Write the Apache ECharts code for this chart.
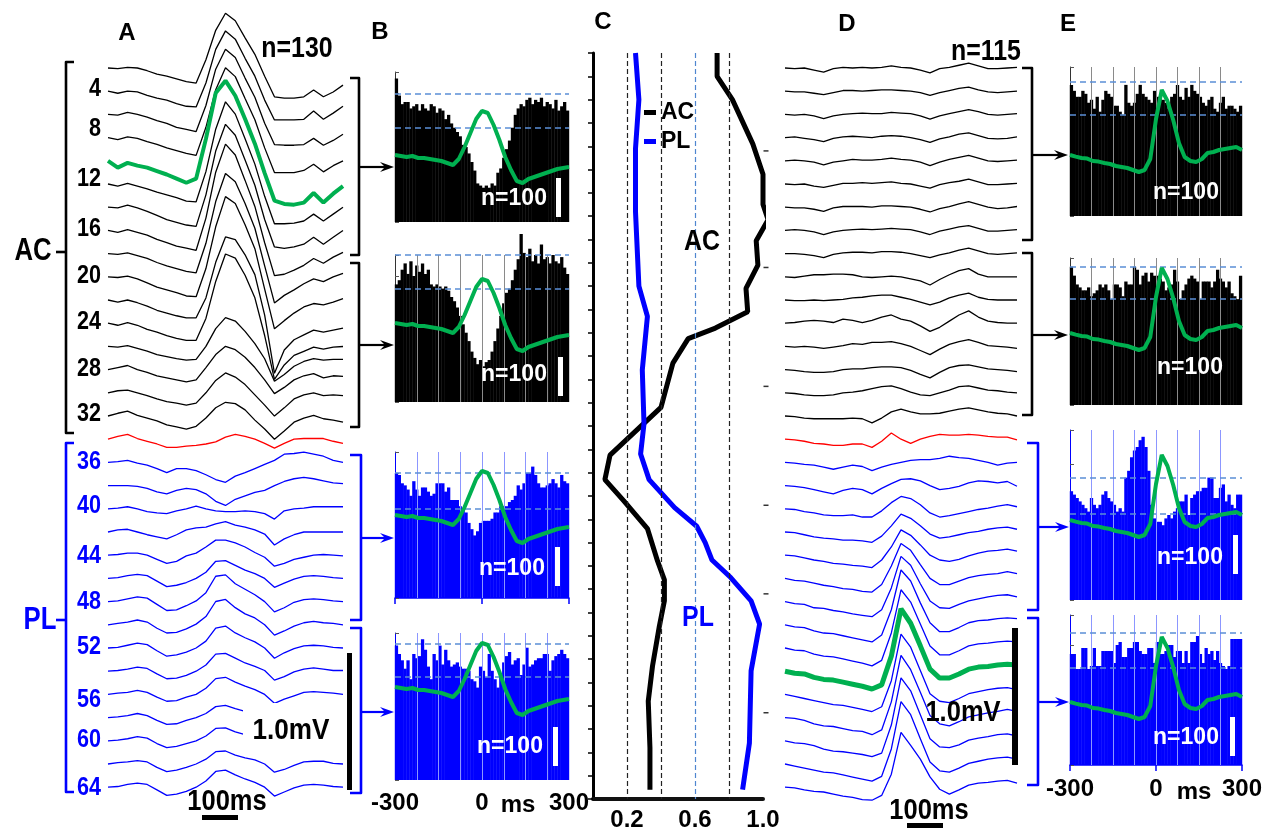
<!DOCTYPE html>
<html>
<head>
<meta charset="utf-8">
<title>AC / PL field potentials and spike histograms</title>
<script src="https://cdn.jsdelivr.net/npm/echarts@6.0.0/dist/echarts.min.js"></script>
<style>
html,body{margin:0;padding:0;background:#fff;}
#chart{width:1270px;height:832px;}
</style>
</head>
<body>
<div id="chart"></div>
<script>
// ================= DATA =================
// time axis of the averaged field-potential traces (ms)
const traceTimes = [-300,-275,-250,-225,-200,-175,-150,-125,-100,-75,-50,-25,0,25,50,75,100,125,150,175,200,225,250,275,300];

// Panel A : averaged LFP (uV, relative to each trace's start), AC channels (black)
const panelA_AC = [
 [0,-5,5,0,-20,-45,-60,-80,-100,-110,60,275,400,345,220,100,-60,-210,-220,-220,-210,-160,-210,-175,-125],
 [0,-15,0,-5,-30,-50,-65,-90,-110,-115,60,305,440,380,240,110,-65,-210,-210,-210,-205,-145,-205,-160,-110],
 [0,-5,15,0,-20,-45,-65,-95,-110,-125,65,330,475,415,265,125,-65,-220,-225,-225,-220,-175,-225,-190,-145],
 [0,-15,5,-5,-30,-50,-75,-95,-115,-130,75,350,510,445,285,130,-75,-255,-255,-255,-240,-195,-250,-205,-170],
 [0,-50,-15,-35,-50,-75,-100,-130,-160,-130,160,495,585,475,305,125,-90,-290,-315,-320,-305,-235,-305,-240,-185],
 [0,-15,5,-15,-35,-60,-80,-100,-125,-130,90,400,600,510,330,145,-90,-290,-290,-285,-270,-220,-270,-220,-170],
 [0,-5,15,-5,-30,-60,-90,-110,-130,-140,90,410,605,525,345,160,-90,-290,-300,-290,-270,-220,-270,-220,-170],
 [0,-15,5,-15,-35,-65,-90,-115,-130,-145,90,425,630,550,365,175,-90,-330,-320,-290,-255,-205,-240,-195,-160],
 [0,-5,5,-15,-35,-65,-90,-110,-130,-140,75,380,585,525,365,185,-90,-360,-305,-265,-220,-185,-205,-170,-145],
 [0,-5,5,-15,-45,-75,-95,-115,-140,-145,60,365,585,535,380,205,-90,-380,-320,-265,-220,-195,-205,-185,-160],
 [0,-15,0,-20,-45,-75,-95,-115,-130,-130,15,275,460,440,330,185,-110,-535,-365,-290,-255,-220,-235,-220,-205],
 [0,-15,5,-15,-45,-65,-90,-110,-125,-125,35,305,505,475,350,185,-90,-410,-305,-235,-205,-175,-190,-175,-170],
 [0,-5,5,-15,-35,-60,-75,-90,-100,-95,0,130,210,185,110,20,-90,-255,-205,-145,-110,-90,-100,-95,-95],
 [0,15,30,0,-20,-45,-60,-75,-90,-75,15,110,170,145,90,15,-75,-175,-130,-75,-45,-30,-60,-45,-50],
 [0,15,20,0,-20,-45,-65,-75,-90,-75,0,90,145,115,60,-15,-90,-170,-110,-45,-15,0,-20,-15,-20],
 [0,20,35,5,-15,-35,-65,-80,-95,-75,-15,60,100,90,45,-30,-95,-170,-110,-45,-15,5,-20,-30,-45]
];
// Panel A : border channel (red)
const panelA_red = [0,20,35,5,-15,-35,-60,-60,-50,-45,-35,-20,15,35,20,0,-30,-65,-30,0,5,5,5,-15,-30];
// Panel A : PL channels (blue)
const panelA_PL = [
 [0,5,15,-5,-20,-45,-75,-45,-45,-60,-90,-125,-145,-100,-75,-45,-15,15,60,65,75,60,45,15,0],
 [0,0,0,-5,-20,-45,-60,-35,-20,-30,-60,-115,-145,-100,-75,-50,-35,0,30,50,60,50,35,20,15],
 [0,5,15,0,-20,-30,-35,-15,0,20,0,-15,-20,-20,-15,-20,-35,-75,-15,0,5,15,15,15,15],
 [0,15,20,0,-20,-35,-50,-20,15,30,35,60,75,50,35,15,-15,-95,-50,-20,0,0,0,0,0],
 [0,5,15,15,0,-30,-60,-45,-5,15,60,110,110,90,60,20,-15,-80,-60,-30,-15,0,5,0,-5],
 [0,5,20,30,20,-20,-60,-50,-30,0,45,125,130,95,60,35,0,-65,-35,-5,15,20,15,5,0],
 [0,5,20,35,25,-20,-65,-60,-30,5,65,185,195,130,90,50,0,-75,-45,-5,15,20,15,5,0],
 [0,10,20,35,20,-25,-60,-55,-30,5,60,170,185,125,80,50,0,-75,-45,-10,15,25,15,10,0],
 [0,5,20,35,25,-20,-60,-50,-30,0,50,145,160,110,75,45,0,-75,-35,-5,15,20,15,5,0],
 [0,5,15,30,20,-20,-55,-50,-30,0,45,125,130,95,60,35,5,-65,-40,-5,15,25,15,5,5],
 [0,10,15,30,15,-20,-50,-45,-20,0,45,115,125,90,60,35,0,-65,-35,-10,15,20,15,10,0],
 [0,5,15,30,15,-20,-50,-45,-20,0,30,80,90,65,45,30,0,-60,-35,-5,15,20,15,5,0],
 [0,5,15,30,20,-20,-50,-40,-20,0,35,90,95,65,45,30,0,-60,-35,-5,15,20,15,5,0],
 [0,10,15,25,15,-25,-55,-45,-25,0,35,90,95,65,45,30,0,-60,-40,-10,15,20,20,5,0],
 [0,5,20,30,20,-20,-60,-50,-30,0,45,115,125,90,60,35,0,-65,-35,-5,15,20,15,5,0]
];

// Panel D : AC channels (black)
const panelD_AC = [
 [0,-5,0,-15,-30,-5,5,0,5,0,5,15,5,0,-15,-35,-5,5,20,35,15,-5,-5,0,5],
 [0,-5,-5,-15,-25,-10,5,5,0,5,10,10,5,0,-10,-30,-10,5,20,30,10,-5,-10,-5,0],
 [0,-5,0,-10,-30,-10,0,5,10,5,5,15,10,5,-10,-35,-10,5,20,35,20,0,-5,0,5],
 [0,5,-5,-15,-30,-5,5,10,5,0,10,15,10,0,-15,-35,-10,5,25,35,15,-5,-10,-5,5],
 [0,5,0,-10,-30,-10,0,10,5,5,10,20,10,5,-10,-35,-10,10,25,40,20,0,-5,0,5],
 [0,-5,0,-15,-25,-10,5,5,10,5,10,15,5,0,-15,-30,-5,10,20,35,15,-5,-5,0,5],
 [0,-5,-5,-15,-30,-5,5,5,5,0,10,10,5,0,-15,-35,-10,5,25,40,20,0,-10,-5,5],
 [0,5,0,-10,-30,-10,0,5,10,5,10,15,10,5,-10,-30,-5,10,25,35,15,-5,-5,0,5],
 [0,0,-5,-15,-30,-5,5,10,10,5,15,15,10,0,-15,-30,-10,5,25,40,20,0,-5,0,5],
 [0,-5,5,15,15,20,20,15,0,-5,0,5,0,-15,-30,-60,-20,15,45,60,20,0,0,0,0],
 [0,-5,-5,0,-5,0,5,15,20,30,35,35,20,5,-15,-35,-15,15,35,50,20,5,0,0,0],
 [0,5,15,20,15,5,30,20,5,20,45,60,30,15,-20,-60,-30,15,60,90,45,15,5,0,0],
 [0,-5,0,-5,-15,-5,5,20,15,30,30,35,20,0,-30,-60,-20,15,35,50,30,5,0,-5,-15],
 [0,-5,-15,-20,-20,-15,0,5,5,15,20,20,15,-5,-35,-60,-20,15,30,35,20,5,0,-5,-15],
 [0,-5,-15,-20,-20,-15,0,5,15,30,45,50,30,5,-15,-20,0,20,45,50,35,20,15,5,0],
 [0,-5,-15,-20,-20,-20,-20,-15,-20,-50,-15,30,50,30,15,15,20,35,50,60,45,30,20,15,0]
];
const panelD_red = [0,-5,-15,-30,-35,-45,-45,-35,-35,-60,-15,45,0,-30,0,20,35,30,30,35,30,20,15,15,-5];
const panelD_PL = [
 [0,-5,-15,-20,-35,-50,-35,-20,-30,-60,-35,-15,0,15,20,20,30,45,35,30,15,0,-20,-5,0],
 [0,-5,-15,-30,-45,-60,-35,-20,-30,-60,-20,15,45,50,35,0,-30,-20,-5,20,35,30,20,30,-5],
 [0,-5,-20,-30,-45,-50,-50,-45,-60,-60,-15,45,90,75,30,-30,-60,-50,-35,-20,-5,5,20,30,15],
 [0,-5,-20,-35,-45,-50,-60,-60,-65,-75,-30,45,130,100,45,-15,-45,-35,-20,-5,5,20,30,35,20],
 [0,-5,-20,-35,-45,-60,-65,-75,-80,-90,-35,60,185,145,75,0,-35,-45,-30,-5,15,30,35,45,30],
 [0,-15,-20,-35,-50,-60,-75,-80,-95,-100,-45,90,255,205,100,0,-45,-45,-20,5,20,30,35,50,35],
 [0,-15,-20,-45,-50,-65,-75,-90,-100,-110,-60,100,330,265,130,5,-45,-50,-20,5,20,35,45,50,35],
 [0,-15,-20,-45,-60,-65,-80,-95,-110,-125,-75,110,400,320,160,15,-50,-50,-20,15,30,35,45,50,45],
 [0,-15,-20,-45,-60,-65,-80,-95,-110,-130,-90,110,425,335,175,15,-50,-50,-20,15,30,35,45,50,45],
 [0,-15,-20,-45,-60,-65,-80,-95,-110,-130,-100,110,455,350,185,15,-50,-50,-20,15,30,35,45,50,45],
 [0,-15,-30,-45,-60,-75,-80,-95,-110,-125,-90,100,440,345,175,5,-50,-60,-30,5,20,35,45,50,35],
 [0,-5,-20,-45,-60,-65,-80,-95,-100,-125,-90,115,455,350,185,15,-45,-60,-30,5,20,35,45,60,45],
 [0,-15,-20,-35,-60,-75,-80,-90,-100,-115,-90,115,460,365,190,15,-45,-50,-30,5,20,30,45,50,35],
 [0,-15,-30,-45,-60,-65,-80,-95,-110,-125,-90,110,455,360,185,15,-50,-60,-30,5,20,35,45,50,35],
 [0,-5,-20,-30,-35,-50,-65,-75,-90,-95,-60,95,400,305,205,75,-15,-50,-20,15,30,35,45,50,30]
];
const channelLabels = ['4','8','12','16','20','24','28','32','36','40','44','48','52','56','60','64'];

// Histograms (spike counts, 10-ms bins from -300 to 300 ms)
const histB1 = [67,59,55,56,56,53,54,55,52,55,53,52,55,54,51,53,52,48,50,46,44,42,40,36,35,32,28,24,18,17,16,17,16,18,17,23,25,30,34,38,44,50,53,55,54,57,58,55,57,56,58,54,56,55,53,57,52,54,56,52];
const histB2 = [56,58,63,66,61,67,60,65,62,66,61,63,56,55,56,55,54,55,53,50,48,45,41,37,33,29,24,21,18,20,17,19,20,24,29,35,41,47,52,54,58,63,68,80,71,69,73,67,70,66,75,68,69,66,70,67,66,69,64,61];
const histB3 = [60,59,55,54,52,49,56,52,49,53,53,51,49,50,55,55,55,51,53,47,47,47,44,43,41,36,33,30,32,36,37,37,37,38,41,41,44,44,44,46,47,49,54,52,55,60,60,63,59,55,53,53,54,55,57,55,53,59,56,55];
const histB4 = [64,60,57,53,57,48,60,58,59,67,62,54,48,60,57,64,55,62,57,54,55,56,54,53,53,52,48,47,44,54,52,49,60,52,48,44,50,56,59,61,55,57,58,50,55,63,54,55,57,58,58,60,60,52,57,59,60,62,60,58];
const histE1 = [44,42,40,40,42,41,38,39,36,40,35,39,42,41,40,37,37,35,34,44,38,37,38,41,44,41,40,39,38,42,40,40,39,38,36,40,41,44,40,39,43,40,44,42,41,40,38,37,39,40,36,35,38,40,36,37,37,36,35,37];
const histE2 = [47,44,41,40,39,39,40,37,38,39,41,40,41,39,36,41,41,40,37,42,41,41,47,46,41,44,45,42,45,44,44,43,42,39,40,41,46,42,36,39,41,43,44,43,42,36,42,42,42,40,42,46,43,42,40,42,38,37,36,44];
const histE3 = [32,31,30,29,28,27,26,30,28,27,28,31,32,30,29,28,26,27,26,36,38,42,44,45,47,48,45,38,28,24,23,23,22,24,25,24,26,27,29,29,31,25,30,31,32,32,33,33,36,36,30,30,33,34,29,31,28,27,31,31];
const histE4 = [37,37,32,32,39,39,32,33,39,33,33,38,38,38,38,34,40,41,36,36,39,39,41,41,38,37,37,39,39,34,41,37,37,38,40,40,36,38,38,34,38,34,41,41,43,37,34,39,37,38,35,38,34,33,32,33,42,42,42,42];
const histThresholdsB = [[60,44],[70,54],[60,43],[65,49]];
const histThresholdsE = [[45,34],[47,36],[36,25.5],[44,32.5]];
const histGridTimes = [-225,-150,-75,0,75,150,225];

// Overlaid averaged LFP in the histograms (uV)
const lfpTimes = [-300,-280,-260,-240,-220,-200,-180,-160,-140,-120,-100,-80,-60,-40,-20,0,20,40,60,80,100,120,140,160,180,200,220,240,260,280,300];
const lfpB = [0,-5,-10,-5,-15,-15,-20,-25,-30,-40,-50,-20,40,110,180,220,210,150,75,-10,-75,-130,-140,-120,-110,-100,-90,-80,-70,-65,-60];
const lfpE = [0,-8,-15,-18,-30,-33,-40,-45,-55,-60,-65,-75,-85,-75,-20,180,325,270,175,60,-10,-30,-35,-20,10,15,25,30,35,40,25];

// Panel C : normalised depth profiles (depth in channel-pair units from top)
const acDepth = [0,1.0,2.0,3.9,5.2,6.5,7.15,8.05,9.1,10.1,11.1,11.8,12.25,13.3,15.2,17.25,18.3,19.2,20.4,21.8,22.6,23.5,24.6,26.3,27.8,29.8,31.6];
const acValue = [0.73,0.73,0.82,0.94,1.0,1.0,1.03,0.96,0.97,0.90,0.91,0.72,0.56,0.47,0.40,0.10,0.07,0.18,0.32,0.38,0.42,0.42,0.39,0.35,0.325,0.335,0.335];
const plDepth = [0,2.0,4.1,6.8,10.0,11.3,13.6,15.9,17.2,18.3,19.5,20.3,21.0,21.75,22.5,23.5,24.5,26.5,29.6,31.6];
const plValue = [0.25,0.27,0.25,0.25,0.27,0.32,0.29,0.30,0.28,0.33,0.48,0.61,0.66,0.70,0.81,0.93,0.98,0.93,0.92,0.88];
const cGuideValues = [0.2,0.4,0.6,0.8];
const cTickLabels = [0.2,0.6,1.0];
const cRightTicks = [4.2,9.2,14.3,19.4,23.2,28.3];

// ================= LAYOUT / STYLE =================
const FS = '"Liberation Sans",Arial,sans-serif';
const NARROW = 0.83;   // horizontal squeeze emulating a condensed bold face
const BLACK = '#000000', BLUE = '#0000ff', RED = '#ff0000', GREEN = '#00b050', DASH = '#5b8fd6';
const UV_PER_PX = 1000 / 137;       // 1.0 mV scale bar = 137 px
const TRACE_TOP_PX = 68, TRACE_GAP_PX = 23.2;
const LFP_UV_PER_PX = 5;

const grids = [
  {left:108, top:0, width:235, height:832},   // 0 A
  {left:785, top:0, width:232, height:832},   // 1 D
  {left:593, top:53, width:170, height:748},  // 2 C
  {left:395, top:72, width:174, height:150},  // 3 B1
  {left:395, top:255, width:174, height:147}, // 4 B2
  {left:395, top:452, width:174, height:146}, // 5 B3
  {left:395, top:633, width:174, height:147}, // 6 B4
  {left:1070, top:67, width:172, height:149}, // 7 E1
  {left:1070, top:258, width:172, height:147},// 8 E2
  {left:1070, top:430, width:172, height:170},// 9 E3
  {left:1070, top:615, width:172, height:150} // 10 E4
];

const histCfg = [
  {g:3, data:histB1, color:BLACK, thr:histThresholdsB[0], ymax:70, lfp:lfpB, lfpTopPx:83, vlines:false},
  {g:4, data:histB2, color:BLACK, thr:histThresholdsB[1], ymax:70, lfp:lfpB, lfpTopPx:68, vlines:true},
  {g:5, data:histB3, color:BLUE,  thr:histThresholdsB[2], ymax:70, lfp:lfpB, lfpTopPx:63, vlines:true, xline:true},
  {g:6, data:histB4, color:BLUE,  thr:histThresholdsB[3], ymax:70, lfp:lfpB, lfpTopPx:54, vlines:true, labels:true, margin:11},
  {g:7, data:histE1, color:BLACK, thr:histThresholdsE[0], ymax:50, lfp:lfpE, lfpTopPx:88, vlines:true},
  {g:8, data:histE2, color:BLACK, thr:histThresholdsE[1], ymax:50, lfp:lfpE, lfpTopPx:75, vlines:true},
  {g:9, data:histE3, color:BLUE,  thr:histThresholdsE[2], ymax:50, lfp:lfpE, lfpTopPx:90, vlines:true},
  {g:10,data:histE4, color:BLUE,  thr:histThresholdsE[3], ymax:50, lfp:lfpE, lfpTopPx:87, vlines:true, xline:true, labels:true, margin:12}
];

const xAxis = [], yAxis = [], series = [];

// trace panels A (grid 0) and D (grid 1)
[0,1].forEach(gi => {
  xAxis.push({gridIndex:gi, type:'value', min:-300, max:300, show:false});
  yAxis.push({gridIndex:gi, type:'value', min:(TRACE_TOP_PX - grids[gi].height) * UV_PER_PX, max:TRACE_TOP_PX * UV_PER_PX, show:false});
});
// panel C
xAxis.push({gridIndex:2, type:'value', min:0, max:1, interval:0.2,
  axisLine:{show:true, onZero:false, lineStyle:{color:'#111', width:4}},
  axisTick:{show:false}, splitLine:{show:false},
  axisLabel:{show:true, margin:9, fontSize:24, fontWeight:'bold', fontFamily:FS, color:'#000',
    formatter: v => cTickLabels.some(c => Math.abs(c - v) < 1e-6) ? v.toFixed(1) : ''}});
yAxis.push({gridIndex:2, type:'value', min:0, max:32, interval:1, inverse:true,
  axisLine:{show:true, onZero:false, lineStyle:{color:'#000', width:3}},
  axisTick:{show:true, length:5, lineStyle:{color:'#000', width:1.5}},
  axisLabel:{show:false}, splitLine:{show:false}});
// histogram axes
histCfg.forEach(h => {
  xAxis.push({gridIndex:h.g, type:'value', min:-300, max:300, interval:300,
    axisLine:{show:!!h.xline, onZero:false, lineStyle:{color:h.color, width:1.5}},
    axisTick:{show:!!h.xline, length:6, lineStyle:{color:h.color, width:1.5}},
    axisLabel:{show:!!h.labels, margin:h.margin || 10, fontSize:24, fontWeight:'bold', fontFamily:FS, color:'#000'},
    splitLine:{show:false}});
  yAxis.push({gridIndex:h.g, type:'value', min:0, max:h.ymax, interval:10,
    axisLine:{show:true, onZero:false, lineStyle:{color:h.color === BLACK ? '#333' : h.color, width:1}},
    axisTick:{show:true, inside:true, length:4, lineStyle:{color:'#555', width:1}},
    axisLabel:{show:false}, splitLine:{show:false}});
});
histCfg.forEach(h => {
  const top = h.lfpTopPx * LFP_UV_PER_PX;
  yAxis.push({gridIndex:h.g, type:'value', min: top - grids[h.g].height * LFP_UV_PER_PX, max: top, show:false});
});

// ---- trace series
function addTraces(traces, gi, greenIdx, greenWidth) {
  traces.forEach((vals, i) => {
    const off = -i * TRACE_GAP_PX * UV_PER_PX;
    const isGreen = i === greenIdx;
    const color = isGreen ? GREEN : (i < 16 ? BLACK : (i === 16 ? RED : BLUE));
    series.push({type:'line', xAxisIndex:gi, yAxisIndex:gi, silent:true, symbol:'none',
      data: traceTimes.map((t, k) => [t, off + vals[k]]),
      lineStyle:{color, width: isGreen ? greenWidth : 1.3}, z: isGreen ? 4 : 2});
  });
}
addTraces(panelA_AC.concat([panelA_red], panelA_PL), 0, 4, 4);
addTraces(panelD_AC.concat([panelD_red], panelD_PL), 1, 26, 5);

// ---- histograms
histCfg.forEach((h, k) => {
  const ax = 3 + k;
  const lineCol = h.color === BLACK ? '#8a8a8a' : '#8c96ff';
  const ml = [];
  if (h.vlines) histGridTimes.forEach(t => ml.push({xAxis:t, lineStyle:{color:lineCol, width:1, type:'solid'}}));
  h.thr.forEach(v => ml.push({yAxis:v, lineStyle:{color:DASH, width:1.5, type:[6,4]}}));
  series.push({type:'bar', xAxisIndex:ax, yAxisIndex:ax, silent:true, clip:false,
    data: h.data.map((v, i) => [-295 + 10 * i, v]),
    barWidth:3.3, itemStyle:{color:h.color}, z:2,
    markLine:{silent:true, symbol:['none','none'], label:{show:false}, animation:false, data:ml}});
  series.push({type:'line', xAxisIndex:ax, yAxisIndex:11 + k, silent:true, symbol:'none',
    data: lfpTimes.map((t, i) => [t, h.lfp[i]]),
    lineStyle:{color:GREEN, width:4}, z:5});
});

// ---- panel C
series.push({type:'line', xAxisIndex:2, yAxisIndex:2, data:[], silent:true, z:1,
  markLine:{silent:true, symbol:['none','none'], label:{show:false}, animation:false,
    data: cGuideValues.map(v => ({xAxis:v, lineStyle:{color: Math.abs(v - 0.6) < 1e-6 ? '#4f86d0' : '#222', width:1.2, type:[5,3]}}))}});
series.push({name:'AC', type:'line', xAxisIndex:2, yAxisIndex:2, silent:true, symbol:'none',
  data: acValue.map((v, i) => [v, acDepth[i]]), lineStyle:{color:BLACK, width:5}, itemStyle:{color:BLACK}, z:4});
series.push({name:'PL', type:'line', xAxisIndex:2, yAxisIndex:2, silent:true, symbol:'none',
  data: plValue.map((v, i) => [v, plDepth[i]]), lineStyle:{color:BLUE, width:5}, itemStyle:{color:BLUE}, z:4});
series.push({type:'scatter', xAxisIndex:2, yAxisIndex:2, silent:true, symbol:'rect', symbolSize:[5,1.5], symbolOffset:[3,0],
  data: cRightTicks.map(d => [1.0, d]), itemStyle:{color:'#000'}, z:3});

// ---- annotations (graphic)
const G = [];
function txt(x, y, text, font, color, align, sx) {
  G.push({type:'text', x, y, z:100, silent:true, scaleX: sx || 1,
    style:{text, font, fill: color || '#000', textAlign: align || 'center', align: align || 'center',
      textVerticalAlign:'middle', verticalAlign:'middle'}});
}
function poly(points, color, w) {
  G.push({type:'polyline', z:100, silent:true, shape:{points}, style:{stroke:color, lineWidth:w, fill:null, lineJoin:'round'}});
}
function rect(x, y, w, h, fill) {
  G.push({type:'rect', z:99, silent:true, shape:{x, y, width:w, height:h}, style:{fill}});
}
function arrow(x0, x1, y, color) {
  poly([[x0, y], [x1 - 8, y]], color, 2.2);
  G.push({type:'polygon', z:100, silent:true, shape:{points:[[x1, y], [x1 - 14, y - 5], [x1 - 9, y], [x1 - 14, y + 5]]}, style:{fill:color}});
}
function bracketR(x0, x1, y0, y1, color) { poly([[x0, y0], [x1, y0], [x1, y1], [x0, y1]], color, 2.6); }

// panel letters and counts
[['A',127,33],['B',380,32],['C',603,22],['D',847,24],['E',1068,24]].forEach(([s,x,y]) => txt(x, y, s, 'bold 24px ' + FS));
txt(297, 49, 'n=130', 'bold 30px ' + FS, BLACK, 'center', NARROW);
txt(986, 52, 'n=115', 'bold 30px ' + FS, BLACK, 'center', NARROW);
// channel labels
const chanLabelY = [89,129,179,229,276,322,369,414,462,506,556,602,647,700,740,788];
channelLabels.forEach((s, i) => txt(101, chanLabelY[i], s, 'bold 26px ' + FS, i < 8 ? BLACK : BLUE, 'right', NARROW));
// left brackets
poly([[74,62],[66,62],[66,433],[74,433]], BLACK, 2.6);
poly([[56,252],[66,252]], BLACK, 2.6);
poly([[74,443],[66,443],[66,792],[74,792]], BLUE, 2.6);
poly([[56,620],[66,620]], BLUE, 2.6);
txt(33, 251, 'AC', 'bold 31px ' + FS, BLACK, 'center', NARROW);
txt(40, 620, 'PL', 'bold 31px ' + FS, BLUE, 'center', NARROW);
// right brackets of A with arrows to B
bracketR(350, 359, 78, 255, BLACK);   arrow(359, 394, 167, BLACK);
bracketR(350, 359, 263, 427, BLACK);  arrow(359, 394, 345, BLACK);
bracketR(350, 361, 455, 620, BLUE);   arrow(361, 394, 538, BLUE);
bracketR(350, 361, 628, 793, BLUE);   arrow(361, 394, 712, BLUE);
// right brackets of D with arrows to E
bracketR(1022, 1032, 68, 240, BLACK);  arrow(1032, 1068, 155, BLACK);
bracketR(1022, 1032, 253, 415, BLACK); arrow(1032, 1068, 335, BLACK);
bracketR(1027, 1038, 443, 610, BLUE);  arrow(1038, 1069, 527, BLUE);
bracketR(1027, 1038, 618, 785, BLUE);  arrow(1038, 1069, 702, BLUE);
// scale bars A
rect(243, 703, 100, 47, '#ffffff');
txt(291, 731, '1.0mV', 'bold 30px ' + FS, BLACK, 'center', 0.87);
rect(347, 653, 5, 137, '#000');
txt(227, 802, '100ms', 'bold 30px ' + FS, BLACK, 'center', 0.85);
rect(202, 815, 36, 5, '#000');
// scale bars D
txt(963, 713, '1.0mV', 'bold 30px ' + FS, BLACK, 'center', 0.85);
rect(1012, 628, 6, 137, '#000');
txt(929, 811, '100ms', 'bold 30px ' + FS, BLACK, 'center', 0.85);
rect(907, 823, 36, 5, '#000');
// panel C labels
txt(702, 242, 'AC', 'bold 30px ' + FS, BLACK, 'center', NARROW);
txt(698, 618, 'PL', 'bold 30px ' + FS, BLUE, 'center', NARROW);
// histogram annotations
[[514,199],[514,375],[512,569],[510,747],[1186,193],[1190,368],[1190,558],[1186,738]].forEach(([x,y]) => txt(x, y, 'n=100', 'bold 23px ' + FS, '#ffffff'));
[[556,178],[558,357],[555,547],[553,727],[1233,535],[1230,717]].forEach(([x,y]) => rect(x, y, 5, 39, '#ffffff'));
txt(518, 805, 'ms', 'bold 24px ' + FS);
txt(1194, 792, 'ms', 'bold 24px ' + FS);

const chart = echarts.init(document.getElementById('chart'), null, {renderer:'canvas'});
chart.setOption({
  animation:false,
  backgroundColor:'#ffffff',
  textStyle:{fontFamily:FS},
  grid: grids.map(g => Object.assign({containLabel:false}, g)),
  xAxis, yAxis,
  legend:{data:['AC','PL'], left:644, top:101, orient:'vertical', itemWidth:12, itemHeight:5, itemGap:6,
    icon:'rect', padding:0, selectedMode:false,
    textStyle:{fontSize:23, fontWeight:'bold', fontFamily:FS, color:'#000'}},
  series,
  graphic:{elements:G}
});
</script>
</body>
</html>
